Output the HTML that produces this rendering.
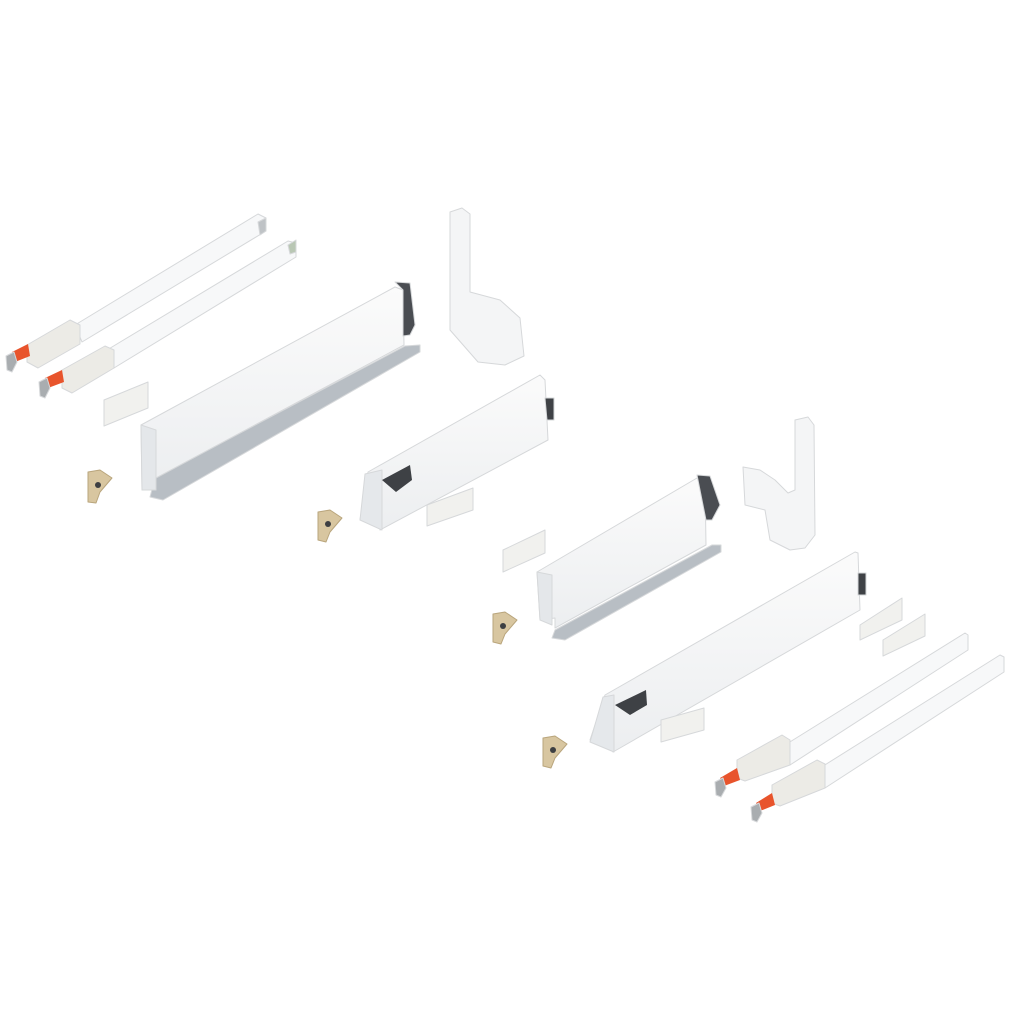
<!DOCTYPE html>
<html><head><style>html,body{margin:0;padding:0;background:#fff}svg{display:block}</style></head>
<body>
<svg width="1024" height="1024" viewBox="0 0 1024 1024">
<defs>
<linearGradient id="w" x1="0" y1="0" x2="0" y2="1"><stop offset="0" stop-color="#fbfbfb"/><stop offset="1" stop-color="#eceef0"/></linearGradient>
</defs>
<g stroke="#d6d8da" stroke-width="1" stroke-linejoin="round">
<!-- rail 1 -->
<polygon points="75,325 258,214 266,218 266,231 82,342" fill="#f7f8f9"/>
<polygon points="258,222 266,218 266,231 260,235" fill="#bfc3c6"/>
<polygon points="27,345 70,320 80,325 80,344 38,368 27,362" fill="#ecebe6"/>
<polygon points="12,352 28,344 30,356 15,362" fill="#e8542c" stroke="none"/>
<polygon points="6,356 14,352 17,362 12,372 7,370" fill="#a9adb0"/>
<!-- rail 2 -->
<polygon points="107,350 288,241 296,243 296,257 114,368" fill="#f7f8f9"/>
<polygon points="288,245 296,240 296,252 290,254" fill="#b9c7b4"/>
<polygon points="62,370 105,346 114,350 114,368 72,393 62,388" fill="#ecebe6"/>
<polygon points="45,378 62,370 64,382 48,388" fill="#e8542c" stroke="none"/>
<polygon points="39,382 47,378 50,388 45,398 40,396" fill="#a9adb0"/>
<!-- small plate -->
<polygon points="104,400 148,382 148,408 104,426" fill="#f1f1ee"/>
<!-- drawer side 1 -->
<polygon points="155,478 405,346 420,345 420,352 163,500 150,497" fill="#b8bec4"/>
<polygon points="141,425 395,287 403,290 404,345 156,478 156,490 142,490" fill="url(#w)"/>
<polygon points="141,425 156,430 156,490 142,490" fill="#e4e7ea"/>
<polygon points="395,282 410,283 415,325 410,335 403,336 403,290" fill="#4a4d52"/>
<!-- back bracket 1 -->
<polygon points="450,212 462,208 470,214 470,292 500,300 520,318 524,356 505,365 478,362 450,330" fill="#f4f5f6"/>
<!-- drawer side 2 -->
<polygon points="368,472 540,375 545,380 548,440 380,530 380,517 360,520" fill="url(#w)"/>
<polygon points="365,474 382,470 382,530 360,520" fill="#e5e8eb"/>
<polygon points="545,398 554,398 554,420 547,420" fill="#3f4246"/>
<polygon points="382,480 410,465 412,480 396,492" fill="#3e4145" stroke="none"/>
<!-- brackets -->
<polygon points="88,472 100,470 112,478 100,492 96,503 88,502" fill="#d8c6a0" stroke="#b9a57c"/>
<circle cx="98" cy="485" r="3" fill="#3d3f42" stroke="none"/>
<polygon points="318,512 330,510 342,518 330,532 326,542 318,540" fill="#d8c6a0" stroke="#b9a57c"/>
<circle cx="328" cy="524" r="3" fill="#3d3f42" stroke="none"/>
<polygon points="427,505 473,488 473,510 427,526" fill="#f1f1ee"/>
<!-- set 2 -->
<polygon points="503,550 545,530 545,553 503,572" fill="#f1f1ee"/>
<polygon points="555,630 712,545 721,545 721,552 565,640 552,638" fill="#b8bec4"/>
<polygon points="537,572 697,478 705,481 706,545 555,628 555,618 540,620" fill="url(#w)"/>
<polygon points="537,572 552,575 552,625 540,620" fill="#e4e7ea"/>
<polygon points="697,475 710,476 720,505 712,520 706,520" fill="#4a4d52"/>
<polygon points="743,467 760,470 775,480 788,493 795,490 795,420 808,417 814,425 815,535 805,548 790,550 770,540 765,510 745,505" fill="#f4f5f6"/>
<polygon points="605,695 855,552 858,553 860,610 613,752 612,740 590,740" fill="url(#w)"/>
<polygon points="603,697 614,695 614,752 590,742" fill="#e5e8eb"/>
<polygon points="858,573 866,573 866,595 858,595" fill="#3f4246"/>
<polygon points="615,705 646,690 647,705 630,715" fill="#3e4145" stroke="none"/>
<polygon points="493,614 505,612 517,620 505,634 501,644 493,642" fill="#d8c6a0" stroke="#b9a57c"/>
<circle cx="503" cy="626" r="3" fill="#3d3f42" stroke="none"/>
<polygon points="543,738 555,736 567,744 555,758 551,768 543,766" fill="#d8c6a0" stroke="#b9a57c"/>
<circle cx="553" cy="750" r="3" fill="#3d3f42" stroke="none"/>
<polygon points="661,720 704,708 704,730 661,742" fill="#f1f1ee"/>
<polygon points="860,625 902,598 902,620 860,640" fill="#f1f1ee"/>
<polygon points="883,640 925,614 925,636 883,656" fill="#f1f1ee"/>
<!-- rails set 2 -->
<polygon points="785,745 965,633 968,635 968,650 790,765" fill="#f7f8f9"/>
<polygon points="737,760 782,735 790,740 790,765 745,781 737,778" fill="#ecebe6"/>
<polygon points="720,778 737,768 740,780 724,786" fill="#e8542c" stroke="none"/>
<polygon points="715,782 723,778 726,788 721,797 716,795" fill="#a9adb0"/>
<polygon points="820,768 1000,655 1004,657 1004,672 825,788" fill="#f7f8f9"/>
<polygon points="772,785 817,760 825,764 825,788 780,806 772,803" fill="#ecebe6"/>
<polygon points="756,803 772,793 775,805 760,811" fill="#e8542c" stroke="none"/>
<polygon points="751,807 759,803 762,813 757,822 752,820" fill="#a9adb0"/>
</g>
</svg>
</body></html>
